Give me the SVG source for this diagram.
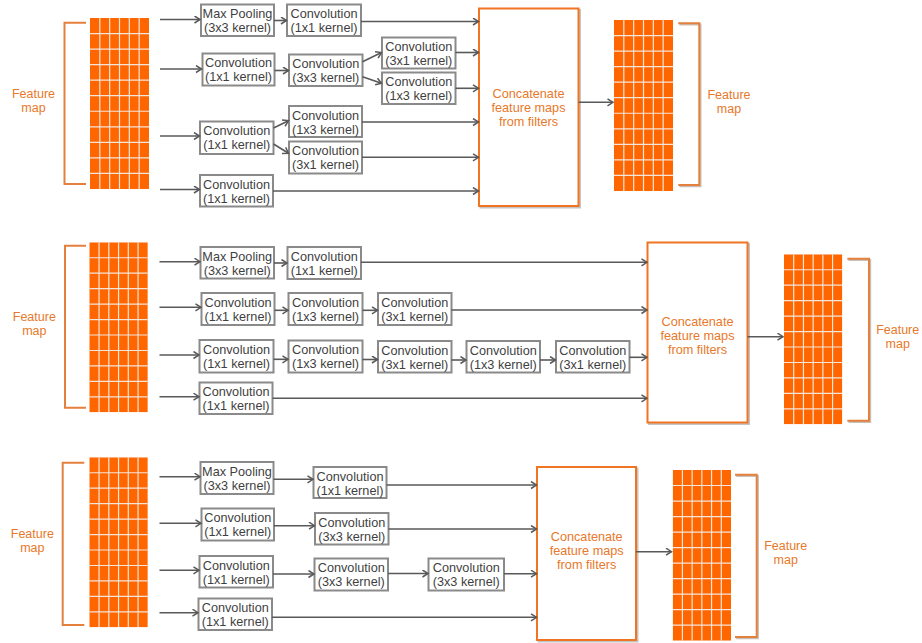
<svg xmlns="http://www.w3.org/2000/svg" xmlns:xlink="http://www.w3.org/1999/xlink" width="922" height="643" viewBox="0 0 922 643">
<style>
.box rect{fill:#fff;stroke:#8a8a8a;stroke-width:2}
.box text{font-family:"Liberation Sans",Arial,sans-serif;font-size:12.7px;fill:#3f3f3f;text-anchor:middle}
.lbl{font-family:"Liberation Sans",Arial,sans-serif;font-size:12.5px;fill:#E8782A;text-anchor:middle}
.cc rect.m{fill:#fff;stroke:#F07422;stroke-width:2}
.cc rect.s{fill:none;stroke:#c4c4c4;stroke-width:2}
.cc text{font-family:"Liberation Sans",Arial,sans-serif;font-size:12.7px;fill:#E8782A;text-anchor:middle}
.br{fill:none;stroke:#E4803E;stroke-width:2}
.brs{fill:none;stroke:#c8c0b8;stroke-width:2}
#connectors line{stroke:#595959;stroke-width:1.6;marker-end:url(#ah)}
</style>
<defs>
<marker id="ah" markerUnits="userSpaceOnUse" markerWidth="9" markerHeight="9" refX="6.5" refY="4" orient="auto">
<path d="M1,0.5 L6.5,4 L1,7.5" fill="none" stroke="#595959" stroke-width="1.5"/>
</marker>
<symbol id="grid" viewBox="0 0 59 170" preserveAspectRatio="none">
<rect x="0" y="0" width="59" height="170" fill="#FF6600"/>
<g stroke="#f2e6dc" stroke-width="1.2">
<line x1="9.83" y1="0" x2="9.83" y2="170"/>
<line x1="19.67" y1="0" x2="19.67" y2="170"/>
<line x1="29.5" y1="0" x2="29.5" y2="170"/>
<line x1="39.33" y1="0" x2="39.33" y2="170"/>
<line x1="49.17" y1="0" x2="49.17" y2="170"/>
<line x1="0" y1="15.45" x2="59" y2="15.45"/>
<line x1="0" y1="30.9" x2="59" y2="30.9"/>
<line x1="0" y1="46.36" x2="59" y2="46.36"/>
<line x1="0" y1="61.8" x2="59" y2="61.8"/>
<line x1="0" y1="77.27" x2="59" y2="77.27"/>
<line x1="0" y1="92.7" x2="59" y2="92.7"/>
<line x1="0" y1="108.18" x2="59" y2="108.18"/>
<line x1="0" y1="123.6" x2="59" y2="123.6"/>
<line x1="0" y1="139.1" x2="59" y2="139.1"/>
<line x1="0" y1="154.5" x2="59" y2="154.5"/>
</g>
</symbol>
</defs>
<rect x="0" y="0" width="922" height="643" fill="#fff"/>

<!-- ===== TOP SECTION ===== -->
<g id="fm-top-in">
<path class="br" d="M86,22.7 H64.5 V184 H86"/>
<use xlink:href="#grid" x="90" y="18" width="59" height="171"/>
<text class="lbl" x="33.5" y="98">Feature</text>
<text class="lbl" x="33.5" y="112">map</text>
</g>
<g id="t-a1" class="box"><rect x="201" y="4.5" width="73" height="31.5"/><text x="237.5" y="18">Max Pooling</text><text x="237.5" y="32">(3x3 kernel)</text></g>
<g id="t-a2" class="box"><rect x="287" y="4.5" width="74" height="31.5"/><text x="324" y="18">Convolution</text><text x="324" y="32">(1x1 kernel)</text></g>
<g id="t-b1" class="box"><rect x="202.5" y="53.5" width="72" height="32"/><text x="238.5" y="67">Convolution</text><text x="238.5" y="81">(1x1 kernel)</text></g>
<g id="t-b2" class="box"><rect x="289" y="54.5" width="73.5" height="31.5"/><text x="325.75" y="68">Convolution</text><text x="325.75" y="82">(3x3 kernel)</text></g>
<g id="t-b3" class="box"><rect x="382" y="37.5" width="73.5" height="31"/><text x="418.75" y="51">Convolution</text><text x="418.75" y="65">(3x1 kernel)</text></g>
<g id="t-b4" class="box"><rect x="382" y="72.5" width="73.5" height="31.5"/><text x="418.75" y="86">Convolution</text><text x="418.75" y="100">(1x3 kernel)</text></g>
<g id="t-c1" class="box"><rect x="200" y="121.5" width="73.5" height="32.5"/><text x="236.75" y="135">Convolution</text><text x="236.75" y="149">(1x1 kernel)</text></g>
<g id="t-c2" class="box"><rect x="289" y="106" width="73" height="31"/><text x="325.5" y="119.5">Convolution</text><text x="325.5" y="133.5">(1x3 kernel)</text></g>
<g id="t-c3" class="box"><rect x="289" y="141.5" width="73" height="32"/><text x="325.5" y="155">Convolution</text><text x="325.5" y="169">(3x1 kernel)</text></g>
<g id="t-d1" class="box"><rect x="200" y="175" width="73" height="31.5"/><text x="236.5" y="188.5">Convolution</text><text x="236.5" y="202.5">(1x1 kernel)</text></g>
<g id="t-concat" class="cc">
<rect class="s" x="480.5" y="10" width="99.5" height="197.5"/>
<rect class="m" x="479" y="8.5" width="99.5" height="197.5"/>
<text x="528.5" y="98">Concatenate</text><text x="528.5" y="112">feature maps</text><text x="528.5" y="126">from filters</text>
</g>
<g id="fm-top-out">
<use xlink:href="#grid" x="614" y="20" width="59" height="171"/>
<path class="brs" d="M679.5,24.5 H700.5 V186.2 H679.5"/>
<path class="br" d="M678.3,23.3 H699.3 V185 H678.3"/>
<text class="lbl" x="729" y="98.8">Feature</text>
<text class="lbl" x="729" y="112.8">map</text>
</g>

<!-- ===== MIDDLE SECTION ===== -->
<g id="fm-mid-in">
<path class="br" d="M86,245.7 H65 V407.7 H86"/>
<use xlink:href="#grid" x="89.3" y="242.3" width="58.5" height="170"/>
<text class="lbl" x="34.3" y="321">Feature</text>
<text class="lbl" x="34.3" y="335">map</text>
</g>
<g id="m-e1" class="box"><rect x="200.5" y="247" width="73.5" height="31.5"/><text x="237.25" y="260.5">Max Pooling</text><text x="237.25" y="274.5">(3x3 kernel)</text></g>
<g id="m-e2" class="box"><rect x="287.5" y="247" width="73.5" height="32"/><text x="324.25" y="260.5">Convolution</text><text x="324.25" y="274.5">(1x1 kernel)</text></g>
<g id="m-f1" class="box"><rect x="201.5" y="293" width="73" height="32"/><text x="238" y="306.5">Convolution</text><text x="238" y="320.5">(1x1 kernel)</text></g>
<g id="m-f2" class="box"><rect x="288.5" y="293" width="74" height="32"/><text x="325.5" y="306.5">Convolution</text><text x="325.5" y="320.5">(1x3 kernel)</text></g>
<g id="m-f3" class="box"><rect x="378" y="293" width="73.5" height="32"/><text x="414.75" y="306.5">Convolution</text><text x="414.75" y="320.5">(3x1 kernel)</text></g>
<g id="m-g1" class="box"><rect x="199.5" y="340" width="74" height="32.5"/><text x="236.5" y="353.5">Convolution</text><text x="236.5" y="367.5">(1x1 kernel)</text></g>
<g id="m-g2" class="box"><rect x="288.5" y="340.5" width="74" height="32"/><text x="325.5" y="354">Convolution</text><text x="325.5" y="368">(1x3 kernel)</text></g>
<g id="m-g3" class="box"><rect x="378" y="341" width="73.5" height="31.5"/><text x="414.75" y="354.5">Convolution</text><text x="414.75" y="368.5">(3x1 kernel)</text></g>
<g id="m-g4" class="box"><rect x="466.5" y="341" width="73.5" height="31.5"/><text x="503.25" y="354.5">Convolution</text><text x="503.25" y="368.5">(1x3 kernel)</text></g>
<g id="m-g5" class="box"><rect x="556" y="341" width="73.5" height="31.5"/><text x="592.75" y="354.5">Convolution</text><text x="592.75" y="368.5">(3x1 kernel)</text></g>
<g id="m-h1" class="box"><rect x="199.5" y="382.5" width="73" height="31.5"/><text x="236" y="396">Convolution</text><text x="236" y="410">(1x1 kernel)</text></g>
<g id="m-concat" class="cc">
<rect class="s" x="649" y="244" width="100" height="180"/>
<rect class="m" x="647.5" y="242.5" width="100" height="180"/>
<text x="697.5" y="325.5">Concatenate</text><text x="697.5" y="339.7">feature maps</text><text x="697.5" y="353.5">from filters</text>
</g>
<g id="fm-mid-out">
<use xlink:href="#grid" x="784" y="254.3" width="58.3" height="170"/>
<path class="brs" d="M848.5,259.9 H870.2 V421.9 H848.5"/>
<path class="br" d="M847.3,258.7 H869 V420.7 H847.3"/>
<text class="lbl" x="897.7" y="333.8">Feature</text>
<text class="lbl" x="897.7" y="347.8">map</text>
</g>

<!-- ===== BOTTOM SECTION ===== -->
<g id="fm-bot-in">
<path class="br" d="M84.3,462.7 H62.7 V625 H84.3"/>
<use xlink:href="#grid" x="89.3" y="457.3" width="58.5" height="170"/>
<text class="lbl" x="32.3" y="538">Feature</text>
<text class="lbl" x="32.3" y="552">map</text>
</g>
<g id="b-i1" class="box"><rect x="200.5" y="462" width="73" height="32"/><text x="237" y="475.5">Max Pooling</text><text x="237" y="489.5">(3x3 kernel)</text></g>
<g id="b-i2" class="box"><rect x="313.5" y="467" width="73" height="31"/><text x="350" y="480.5">Convolution</text><text x="350" y="494.5">(1x1 kernel)</text></g>
<g id="b-j1" class="box"><rect x="201.5" y="508.5" width="72.5" height="32"/><text x="237.75" y="522">Convolution</text><text x="237.75" y="536">(1x1 kernel)</text></g>
<g id="b-j2" class="box"><rect x="315" y="513" width="73.5" height="31.5"/><text x="351.75" y="526.5">Convolution</text><text x="351.75" y="540.5">(3x3 kernel)</text></g>
<g id="b-k1" class="box"><rect x="199.5" y="556" width="73.5" height="31.5"/><text x="236.25" y="569.5">Convolution</text><text x="236.25" y="583.5">(1x1 kernel)</text></g>
<g id="b-k2" class="box"><rect x="314.5" y="558.5" width="73.5" height="32"/><text x="351.25" y="572">Convolution</text><text x="351.25" y="586">(3x3 kernel)</text></g>
<g id="b-k3" class="box"><rect x="428.5" y="558.5" width="75.5" height="32"/><text x="466.25" y="572">Convolution</text><text x="466.25" y="586">(3x3 kernel)</text></g>
<g id="b-l1" class="box"><rect x="198.5" y="598.5" width="73.5" height="31.5"/><text x="235.25" y="612">Convolution</text><text x="235.25" y="626">(1x1 kernel)</text></g>
<g id="b-concat" class="cc">
<rect class="s" x="538.5" y="468.5" width="99" height="173"/>
<rect class="m" x="537" y="467" width="99" height="173"/>
<text x="586.7" y="541">Concatenate</text><text x="586.7" y="555.3">feature maps</text><text x="586.7" y="569">from filters</text>
</g>
<g id="fm-bot-out">
<use xlink:href="#grid" x="672.7" y="470" width="58.3" height="170.7"/>
<path class="brs" d="M736.2,475.9 H757.9 V638.2 H736.2"/>
<path class="br" d="M735,474.7 H756.7 V637 H735"/>
<text class="lbl" x="785.7" y="550">Feature</text>
<text class="lbl" x="785.7" y="564.3">map</text>
</g>

<g id="connectors">
<!-- top -->
<line x1="160" y1="19.5" x2="200" y2="19.5"/>
<line x1="274" y1="20.5" x2="286.5" y2="20.5"/>
<line x1="361" y1="21.5" x2="478.5" y2="21.5"/>
<line x1="160" y1="69" x2="201.5" y2="69"/>
<line x1="274.5" y1="70.5" x2="288.5" y2="70.5"/>
<line x1="362.5" y1="61.7" x2="381.5" y2="52.5"/>
<line x1="362.5" y1="76.7" x2="381.5" y2="83.3"/>
<line x1="455.5" y1="52.5" x2="478.5" y2="52.5"/>
<line x1="455.5" y1="88.3" x2="478.5" y2="88.3"/>
<line x1="160" y1="136" x2="199.5" y2="136"/>
<line x1="273.5" y1="128" x2="288.5" y2="120.7"/>
<line x1="273.5" y1="144" x2="288.5" y2="153.3"/>
<line x1="362" y1="122" x2="478.5" y2="122"/>
<line x1="362" y1="157.3" x2="478.5" y2="157.3"/>
<line x1="160" y1="189.5" x2="199.5" y2="189.5"/>
<line x1="273" y1="191" x2="478.5" y2="191"/>
<line x1="578.5" y1="102.3" x2="613" y2="102.3"/>
<!-- middle -->
<line x1="159.5" y1="261.7" x2="200" y2="261.7"/>
<line x1="274" y1="263" x2="287" y2="263"/>
<line x1="361" y1="262.3" x2="647" y2="262.3"/>
<line x1="159.5" y1="307.3" x2="201" y2="307.3"/>
<line x1="274.5" y1="310.3" x2="288" y2="310.3"/>
<line x1="362.5" y1="310.3" x2="377.5" y2="310.3"/>
<line x1="451.5" y1="310" x2="647" y2="310"/>
<line x1="159.5" y1="355" x2="199" y2="355"/>
<line x1="273.5" y1="359.3" x2="288" y2="359.3"/>
<line x1="362.5" y1="359.5" x2="377.5" y2="359.5"/>
<line x1="451.5" y1="360" x2="466" y2="360"/>
<line x1="540" y1="360" x2="555.5" y2="360"/>
<line x1="629.5" y1="357.3" x2="647" y2="357.3"/>
<line x1="159.5" y1="396.7" x2="199" y2="396.7"/>
<line x1="272.5" y1="398.3" x2="647" y2="398.3"/>
<line x1="747.5" y1="336.7" x2="783" y2="336.7"/>
<!-- bottom -->
<line x1="159.5" y1="476.7" x2="200" y2="476.7"/>
<line x1="273.5" y1="479.3" x2="313" y2="479.3"/>
<line x1="386.5" y1="485" x2="536.5" y2="485"/>
<line x1="159.5" y1="523.3" x2="201" y2="523.3"/>
<line x1="274" y1="525.7" x2="314.5" y2="525.7"/>
<line x1="388.5" y1="529" x2="536.5" y2="529"/>
<line x1="159.5" y1="570.3" x2="199" y2="570.3"/>
<line x1="273" y1="574" x2="314" y2="574"/>
<line x1="388" y1="573.5" x2="428" y2="573.5"/>
<line x1="504" y1="573.7" x2="536.5" y2="573.7"/>
<line x1="159.5" y1="612.7" x2="198" y2="612.7"/>
<line x1="272" y1="617.3" x2="536.5" y2="617.3"/>
<line x1="636" y1="551.7" x2="671.5" y2="551.7"/>
</g>
</svg>
